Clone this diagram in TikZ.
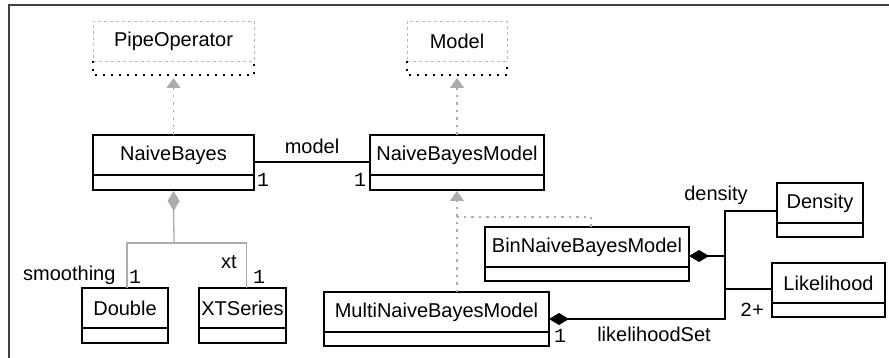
\documentclass[tikz,border=0pt]{standalone}
\usepackage{fontspec}
\setmainfont{Liberation Sans}
\setmonofont{Liberation Mono}
\usetikzlibrary{arrows.meta,positioning}

\begin{document}
\begin{tikzpicture}[x=1pt,y=-1pt,>=Stealth,font=\fontsize{20}{24}\selectfont]
\tikzstyle{cls}=[draw,line width=1.3pt,inner sep=0pt,outer sep=0pt,minimum height=40pt,anchor=north west]
\tikzstyle{attr}=[draw,line width=1.3pt,inner sep=0pt,outer sep=0pt,minimum height=15pt]
\tikzstyle{iface}=[draw=gray!55,line width=0.9pt,dash pattern=on 3pt off 3pt,inner sep=0pt,outer sep=0pt,minimum height=40pt,anchor=north west]
\tikzstyle{ifacebot}=[line width=1.3pt,dash pattern=on 2pt off 6pt]
\tikzstyle{real}=[gray!65,line width=1.3pt,dash pattern=on 2.5pt off 5pt,-{Triangle[length=10pt,width=14pt]}]
\tikzstyle{agg}=[gray!65,line width=1.3pt]
\tikzstyle{comp}=[line width=1.3pt,{Diamond[length=20pt,width=12pt]}-]
\tikzstyle{mult}=[inner sep=0pt,font=\ttfamily\fontsize{20}{24}\selectfont]
\useasboundingbox (0,0) rectangle (889,358);
\draw[line width=2pt,black!75] (889,5) -- (9,5) -- (9,358);
% interfaces
\node[iface,minimum width=161pt] (pipeOp) at (93,21) {PipeOperator};
\node[inner sep=0pt,outer sep=0pt,minimum width=161pt,minimum height=14pt,below=0pt of pipeOp] (pipeOp-a) {};
\draw[ifacebot] (pipeOp-a.north west) -- (pipeOp-a.south west) -- (pipeOp-a.south east) -- (pipeOp-a.north east);
\node[iface,minimum width=100pt] (model) at (407,21) {Model};
\node[inner sep=0pt,outer sep=0pt,minimum width=100pt,minimum height=14pt,below=0pt of model] (model-a) {};
\draw[ifacebot] (model-a.north west) -- (model-a.south west) -- (model-a.south east) -- (model-a.north east);
% classes
\node[cls,minimum width=161pt] (naiveBayes) at (93,135) {NaiveBayes};
\node[attr,minimum width=161pt,below=0pt of naiveBayes] (naiveBayes-a) {};
\node[cls,minimum width=174pt] (nbModel) at (370,135) {NaiveBayesModel};
\node[attr,minimum width=174pt,below=0pt of nbModel] (nbModel-a) {};
\node[cls,minimum width=86pt] (double) at (82,288) {Double};
\node[attr,minimum width=86pt,below=0pt of double] (double-a) {};
\node[cls,minimum width=87pt] (xtSeries) at (199,288) {XTSeries};
\node[attr,minimum width=87pt,below=0pt of xtSeries] (xtSeries-a) {};
\node[cls,minimum width=225pt] (multiNB) at (324,292) {MultiNaiveBayesModel};
\node[attr,minimum width=225pt,minimum height=14pt,below=0pt of multiNB] (multiNB-a) {};
\node[cls,minimum width=204pt] (binNB) at (485,227) {BinNaiveBayesModel};
\node[attr,minimum width=204pt,minimum height=14pt,below=0pt of binNB] (binNB-a) {};
\node[cls,minimum width=86pt] (density) at (777,183) {Density};
\node[attr,minimum width=86pt,minimum height=14pt,below=0pt of density] (density-a) {};
\node[cls,minimum width=113pt] (likelihood) at (772,263) {Likelihood};
\node[attr,minimum width=113pt,minimum height=14pt,below=0pt of likelihood] (likelihood-a) {};
% realizations
\draw[real] (naiveBayes.north) -- ([yshift=-3pt]pipeOp-a.south);
\draw[real] (nbModel.north) -- ([yshift=-3pt]model-a.south);
\coordinate (join) at (457,217);
\draw[real] (nbModel-a.south |- multiNB.north) -- ([yshift=-1pt]nbModel-a.south);
\draw[real,-] ([xshift=4pt]binNB.north) |- (join);
% associations
\draw[line width=1.3pt] ([yshift=-7pt]naiveBayes.east) -- ([yshift=-7pt]nbModel.west);
\node at (312,146) {model};
\node[mult] at (263,180) {1};
\node[mult] at (360,180) {1};
\coordinate (split) at (174,243);
\draw[agg,{Diamond[length=20pt,width=12pt]}-] ([yshift=-1pt]naiveBayes-a.south) -- (split);
\draw[agg] ([xshift=2pt]double.north) |- (split) -| ([xshift=4pt]xtSeries.north);
\node[anchor=east] at (119,275) {smoothing};
\node[mult] at (135,277) {1};
\node at (229,262) {xt};
\node[mult] at (259,277) {1};
\draw[comp] ([yshift=-7pt]multiNB.east) -| ([xshift=-52pt,yshift=-8pt]density.west) -- ([yshift=-8pt]density.west);
\draw[comp] ([yshift=-9pt]binNB.east) -- ++(36,0);
\draw[line width=1.3pt] ([yshift=-6pt]likelihood.west) -- ++(-47,0);
\node at (716,195) {density};
\node[mult] at (752,310) {2+};
\node at (654,334) {likelihoodSet};
\node[mult] at (560,336) {1};
\end{tikzpicture}
\end{document}
